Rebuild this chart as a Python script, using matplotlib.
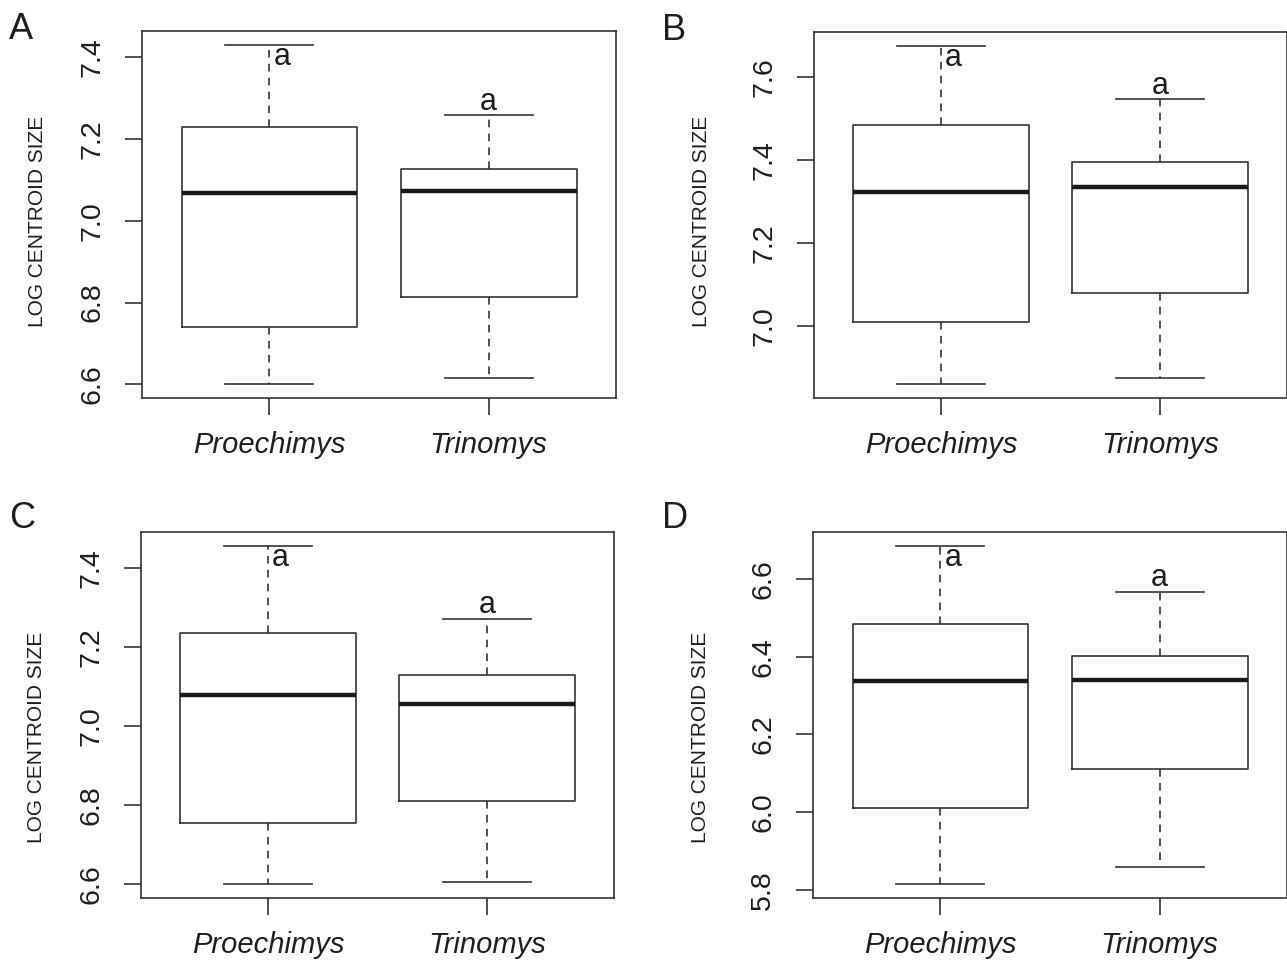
import matplotlib
matplotlib.use("Agg")
import matplotlib.pyplot as plt
from matplotlib.ticker import MultipleLocator, FormatStrFormatter

plt.rcParams["font.family"] = ["Liberation Sans", "DejaVu Sans"]
plt.rcParams["lines.scale_dashes"] = False

GENERA = ["Proechimys", "Trinomys"]
PANELS = ["A", "B", "C", "D"]

# five-number summaries: whislo, q1, median, q3, whishi
PRO_A = [6.600, 6.740, 7.068, 7.228, 7.430]
TRI_A = [6.616, 6.814, 7.072, 7.126, 7.257]
PRO_B = [6.860, 7.010, 7.324, 7.485, 7.675]
TRI_B = [6.875, 7.079, 7.335, 7.394, 7.546]
PRO_C = [6.598, 6.754, 7.077, 7.235, 7.457]
TRI_C = [6.604, 6.810, 7.056, 7.129, 7.272]
PRO_D = [5.814, 6.010, 6.337, 6.483, 6.686]
TRI_D = [5.860, 6.112, 6.339, 6.402, 6.567]

GROUP_LETTERS = ["a", "a"]

LINE = "#333333"
TEXT = "#1e1e1e"


def to_stats(summary, label):
    lo, q1, med, q3, hi = summary
    return dict(label=label, whislo=lo, q1=q1, med=med, q3=q3, whishi=hi, fliers=[])


fig = plt.figure(figsize=(12.87, 9.65), dpi=100)
W, H = 1287, 965
# axes boxes in pixels (left, top, right, bottom)
boxes = [(142, 31, 616, 398), (814, 32, 1287, 398),
         (141, 532, 614, 898), (813, 532, 1287, 898)]
letter_xy = [(9, 39), (662, 40), (9, 528), (662, 528)]
ylab_xy = [(-0.201, 0.482), (-0.217, 0.482), (-0.201, 0.44), (-0.217, 0.44)]
data = [(PRO_A, TRI_A), (PRO_B, TRI_B), (PRO_C, TRI_C), (PRO_D, TRI_D)]

for k, (pro, tri) in enumerate(data):
    l, t, r, b = boxes[k]
    ax = fig.add_axes([l / W, 1 - b / H, (r - l) / W, (b - t) / H])
    stats = [to_stats(pro, GENERA[0]), to_stats(tri, GENERA[1])]
    ax.bxp(stats, positions=[1, 2], widths=0.8, capwidths=0.4, showfliers=False,
           boxprops=dict(color=LINE, lw=1.2),
           whiskerprops=dict(color=LINE, lw=1.2, linestyle=(0, (5.5, 4.5))),
           capprops=dict(color=LINE, lw=1.2),
           medianprops=dict(color="#1a1a1a", lw=3.2, solid_capstyle="butt"))

    # R-style 4% padding around the data range
    lo = min(pro[0], tri[0])
    hi = max(pro[-1], tri[-1])
    pad = 0.04 * (hi - lo)
    ax.set_ylim(lo - pad, hi + pad)
    ax.set_xlim(0.42, 2.58)
    ax.yaxis.set_major_locator(MultipleLocator(0.2))
    ax.yaxis.set_major_formatter(FormatStrFormatter("%.1f"))
    ax.set_xticks([1, 2])
    ax.set_xticklabels(GENERA, fontstyle="italic", fontsize=21, color=TEXT)
    ax.tick_params(axis="y", labelsize=20.5, labelcolor=TEXT, labelrotation=90,
                   length=12.5, width=1.2, color=LINE, pad=14)
    ax.tick_params(axis="x", length=12.5, width=1.2, color=LINE, pad=11)
    for lab in ax.get_yticklabels():
        lab.set_va("center")
    for sp in ax.spines.values():
        sp.set_color(LINE)
        sp.set_linewidth(1.2)

    ax.set_ylabel("LOG CENTROID SIZE", fontsize=15, color=TEXT)
    ax.yaxis.set_label_coords(*ylab_xy[k])

    # significance letters: first below its upper cap, second above
    ax.annotate(GROUP_LETTERS[0], (1, pro[-1]), xytext=(3, -15), textcoords="offset points",
                ha="left", va="baseline", fontsize=22, color=TEXT)
    ax.annotate(GROUP_LETTERS[1], (2, tri[-1]), xytext=(0, 4), textcoords="offset points",
                ha="center", va="baseline", fontsize=22, color=TEXT)

    lx, ly = letter_xy[k]
    fig.text(lx / W, 1 - ly / H, PANELS[k], fontsize=26, color=TEXT, ha="left", va="baseline")

fig.savefig("out.png", dpi=100)
